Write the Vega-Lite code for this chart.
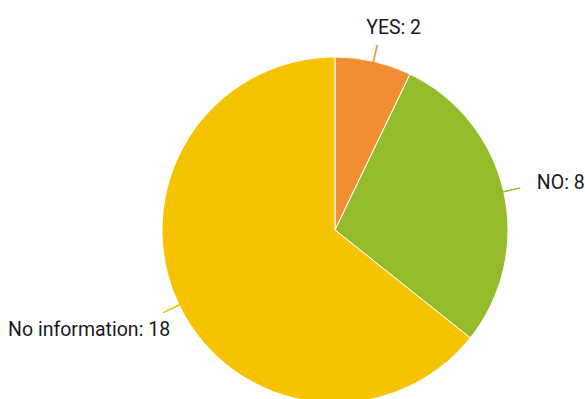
{
  "$schema": "https://vega.github.io/schema/vega-lite/v6.json",
  "width": 585,
  "height": 399,
  "autosize": "none",
  "padding": 0,
  "background": "white",
  "view": {"stroke": null},
  "data": {
    "values": [
      {"category": "YES", "value": 2, "order": 1, "label": "YES: 2"},
      {"category": "NO", "value": 8, "order": 2, "label": "NO: 8"},
      {"category": "No information", "value": 18, "order": 3, "label": "No information: 18"}
    ]
  },
  "encoding": {
    "theta": {"field": "value", "type": "quantitative", "stack": true},
    "order": {"field": "order", "type": "quantitative"},
    "color": {
      "field": "category",
      "type": "nominal",
      "scale": {"domain": ["YES", "NO", "No information"], "range": ["#F18D32", "#93BB2A", "#F5C300"]},
      "legend": null
    },
    "x": {"value": 335},
    "y": {"value": 230}
  },
  "layer": [
    {"mark": {"type": "arc", "radius": 173, "stroke": "white", "strokeWidth": 1}},
    {
      "mark": {"type": "text", "radius": 181, "font": "DejaVu Sans", "fontSize": 18, "angle": 12.86, "align": "center", "baseline": "middle"},
      "encoding": {"text": {"condition": {"test": "datum.category === 'YES'", "value": "|"}, "value": ""}}
    },
    {
      "mark": {"type": "text", "radius": 181, "font": "DejaVu Sans", "fontSize": 18, "angle": 77.14, "align": "center", "baseline": "middle"},
      "encoding": {"text": {"condition": {"test": "datum.category === 'NO'", "value": "|"}, "value": ""}}
    },
    {
      "mark": {"type": "text", "radius": 181, "font": "DejaVu Sans", "fontSize": 18, "angle": 64.29, "align": "center", "baseline": "middle"},
      "encoding": {"text": {"condition": {"test": "datum.category === 'No information'", "value": "|"}, "value": ""}}
    },
    {
      "mark": {"type": "text", "radius": 205, "dx": 13, "dy": -2, "align": "center", "baseline": "middle", "font": "Roboto", "fontSize": 19.5},
      "encoding": {"text": {"condition": {"test": "datum.category === 'YES'", "field": "label"}, "value": ""}, "color": {"value": "#1a1a1a"}}
    },
    {
      "mark": {"type": "text", "radius": 207, "dx": 0, "dy": -1, "align": "left", "baseline": "middle", "font": "Roboto", "fontSize": 19.5},
      "encoding": {"text": {"condition": {"test": "datum.category === 'NO'", "field": "label"}, "value": ""}, "color": {"value": "#1a1a1a"}}
    },
    {
      "mark": {"type": "text", "radius": 193, "dx": 9, "dy": 16, "align": "right", "baseline": "middle", "font": "Roboto", "fontSize": 19.5},
      "encoding": {"text": {"condition": {"test": "datum.category === 'No information'", "field": "label"}, "value": ""}, "color": {"value": "#1a1a1a"}}
    }
  ]
}
